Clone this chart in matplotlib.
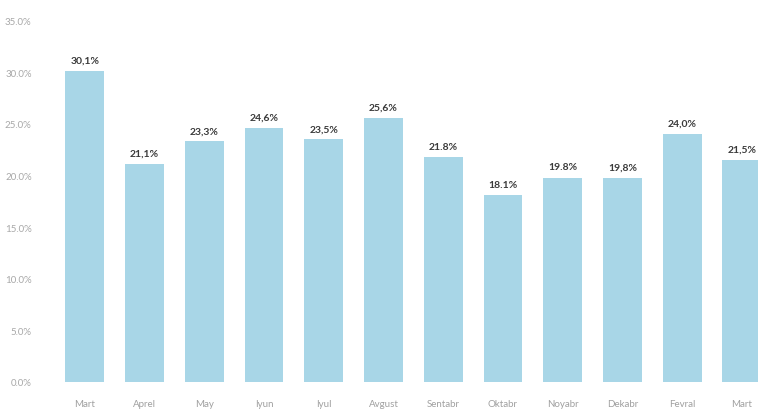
import matplotlib
matplotlib.use('Agg')
import matplotlib.pyplot as plt

months = ['Mart', 'Aprel', 'May', 'Iyun', 'Iyul', 'Avgust', 'Sentabr',
          'Oktabr', 'Noyabr', 'Dekabr', 'Fevral', 'Mart']
values = [30.1, 21.1, 23.3, 24.6, 23.5, 25.6, 21.8, 18.1, 19.8, 19.8, 24.0, 21.5]
value_labels = ['30,1%', '21,1%', '23,3%', '24,6%', '23,5%', '25,6%', '21.8%',
                '18.1%', '19.8%', '19,8%', '24,0%', '21,5%']
yticks = [0, 5, 10, 15, 20, 25, 30, 35]
ytick_labels = ['0.0%', '5.0%', '10.0%', '15.0%', '20.0%', '25.0%', '30.0%', '35.0%']

plt.rcParams['font.family'] = ['Lato', 'DejaVu Sans']

fig = plt.figure(figsize=(7.58, 4.10), dpi=100)
ax = fig.add_axes([40 / 758, 27 / 410, 718 / 758, 383 / 410])

x = list(range(len(months)))
ax.bar(x, values, width=0.65, color='#a8d6e7', zorder=2)

for xi, v, lab in zip(x, values, value_labels):
    ax.text(xi, v + 0.6, lab, ha='center', va='bottom', fontsize=7.5,
            fontweight='bold', color='#3a3a3a')

ax.set_xlim(-0.75, 11.27)
ax.set_ylim(0, 37.1)
ax.set_xticks(x)
ax.set_xticklabels(months, fontsize=7, color='#a0a0a0')
ax.set_yticks(yticks)
ax.set_yticklabels(ytick_labels, fontsize=7, color='#a8a8a8')
ax.tick_params(length=0, pad=12)
ax.tick_params(axis='y', pad=6)

for s in ax.spines.values():
    s.set_visible(False)

fig.savefig('out.png', dpi=100)
plt.close(fig)
